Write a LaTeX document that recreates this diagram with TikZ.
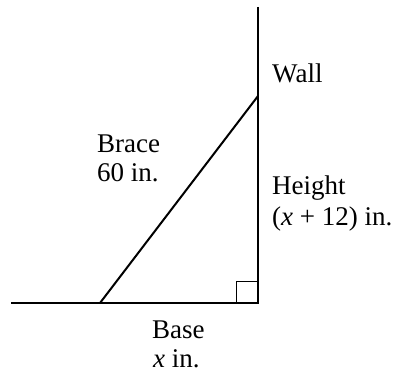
\documentclass[tikz,border=0pt]{standalone}
\usepackage{fontspec}
\setmainfont{Liberation Serif}
\begin{document}
\begin{tikzpicture}[x=1pt,y=1pt,
  lbl/.style={anchor=base west,inner sep=0pt,font=\fontsize{27}{31}\selectfont},
  thick line/.style={line width=2pt},
  thin line/.style={line width=1pt}]
\useasboundingbox (0,0) rectangle (401,370);
\coordinate (walltop) at (258,363);
\coordinate (corner) at (258,67);
\coordinate (groundleft) at (11,67);
\coordinate (bracefoot) at (100,67);
\coordinate (bracetop) at (258,274);
\draw[thick line] (walltop) -- (corner) -- (groundleft);
\draw[thick line] (bracefoot) -- (bracetop);
\draw[thin line] (236,67) |- (258,89);
\node[lbl] (wall) at (272,287) {Wall};
\node[lbl] (brace1) at (97,218) {Brace};
\node[lbl] (brace2) at (97,189) {60 in.};
\node[lbl] (height1) at (272,176) {Height};
\node[lbl] (height2) at (272,145) {(\textit{x} + 12) in.};
\node[lbl] (base1) at (152,32) {Base};
\node[lbl] (base2) at (153,3) {\textit{x} in.};
\end{tikzpicture}
\end{document}
